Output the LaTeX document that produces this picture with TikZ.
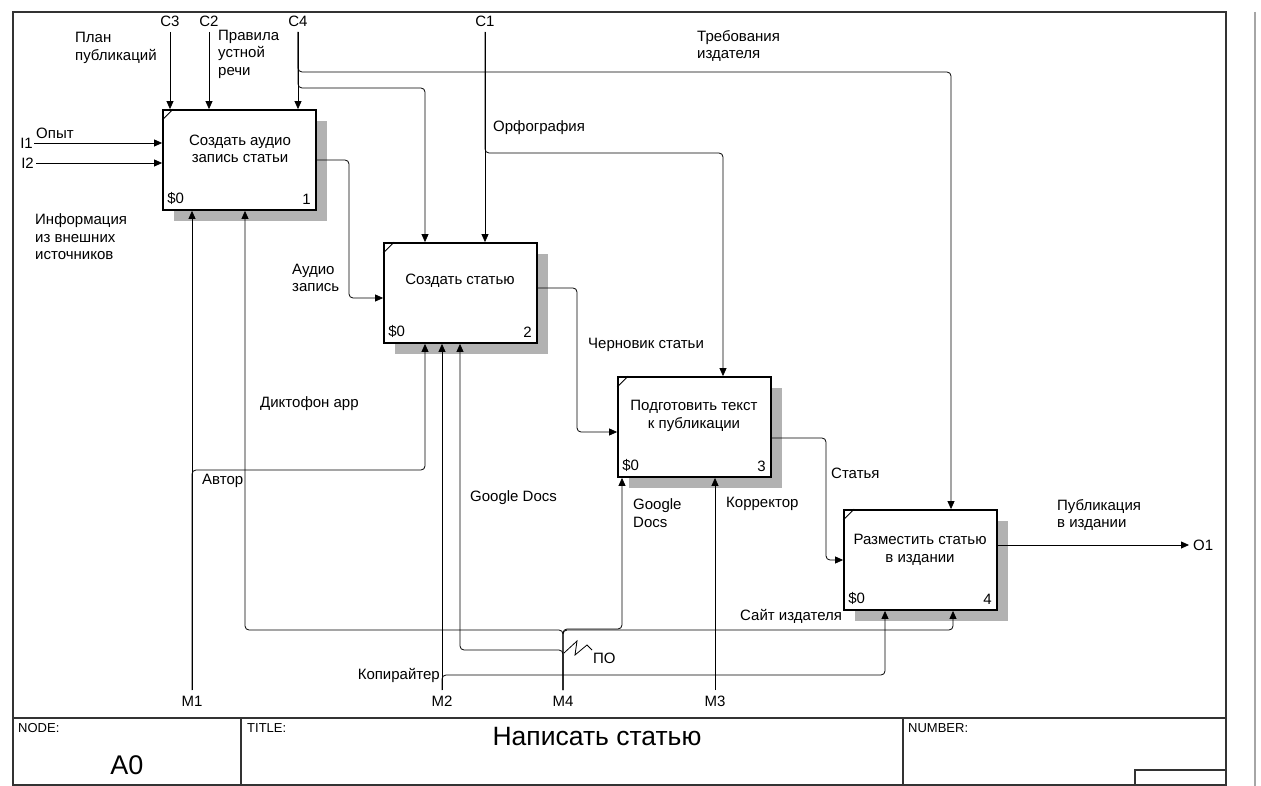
\documentclass[tikz,border=0pt]{standalone}
\usepackage{fontspec}
\setmainfont{Liberation Sans}
\usetikzlibrary{arrows.meta,shadows,calc}
\begin{document}
\begin{tikzpicture}[x=1pt,y=-1pt,
  font=\fontsize{15}{17.5}\selectfont,
  fn/.style={draw, line width=1.8pt, fill=white, minimum width=153pt, minimum height=100pt, inner sep=0pt,
    drop shadow={shadow xshift=11pt, shadow yshift=-11pt, fill=black!30, opacity=1}},
  lbl/.style={inner sep=0pt, anchor=west, align=left},
  ctr/.style={inner sep=0pt, align=center},
  conn/.style={draw, line width=0.8pt, rounded corners=4pt},
  arr/.style={conn, -{Triangle[length=8pt,width=7pt]}},
  frame/.style={draw, line width=1.1pt, black!80},
  small/.style={inner sep=0pt, anchor=west, font=\fontsize{13}{15}\selectfont}
]
\useasboundingbox (0,0) rectangle (1261,786);
\fill[white] (0,0) rectangle (1261,786);

% frame
\coordinate (ftl) at (13,12);
\coordinate (ftr) at (1226,12);
\coordinate (fbl) at (13,785);
\coordinate (fbr) at (1226,785);
\draw[frame] (fbl) -- (ftl) -- (ftr) -- (fbr) -- cycle;
\coordinate (pe1) at (1255,12);
\coordinate (pe2) at (1255,786);
\draw[line width=2pt, black!35] (pe1) -- (pe2);
% title block
\coordinate (tb1) at (13,718);
\coordinate (tb2) at (1226,718);
\draw[frame] (tb1) -- (tb2);
\coordinate (tv1) at (241,718);
\coordinate (tv2) at (903,718);
\draw[frame] (tv1) -- (tv1 |- fbl);
\draw[frame] (tv2) -- (tv2 |- fbl);
\coordinate (sb) at (1135,770);
\draw[frame] (sb |- fbl) -- (sb) -- (sb -| fbr);
\node[small] (tnode) at (18,728) {NODE:};
\node[small] (ttitle) at (247,728) {TITLE:};
\node[small] (tnum) at (908,728) {NUMBER:};
\node[inner sep=0pt, font=\fontsize{27}{30}\selectfont] (tA0) at (127,765) {A0};
\node[inner sep=0pt, font=\fontsize{26.5}{30}\selectfont] (tname) at (597,737) {Написать статью};

% boxes
\node[fn] (b1) at (239.5,160) {};
\node[fn] (b2) at (460.5,293) {};
\node[fn] (b3) at (694.5,427) {};
\node[fn] (b4) at (920.5,560) {};
\foreach \b in {b1,b2,b3,b4}{
  \draw[line width=0.8pt] ($(\b.north west)+(0,11)$) -- ($(\b.north west)+(11,0)$);
}
\node[ctr] (t1) at (240,149) {Создать аудио\\запись статьи};
\node[ctr] (t2) at (460,281) {Создать статью};
\node[ctr] (t3) at (694,416) {Подготовить текст\\к публикации};
\node[ctr] (t4) at (920,550) {Разместить статью\\в издании};
\node[lbl] (s1) at ($(b1.south west)+(5,-12)$) {\$0};
\node[lbl] (s2) at ($(b2.south west)+(5,-12)$) {\$0};
\node[lbl] (s3) at ($(b3.south west)+(5,-12)$) {\$0};
\node[lbl] (s4) at ($(b4.south west)+(5,-12)$) {\$0};
\node[inner sep=0pt, anchor=east] (n1) at ($(b1.south east)+(-6,-12)$) {1};
\node[inner sep=0pt, anchor=east] (n2) at ($(b2.south east)+(-6,-12)$) {2};
\node[inner sep=0pt, anchor=east] (n3) at ($(b3.south east)+(-6,-12)$) {3};
\node[inner sep=0pt, anchor=east] (n4) at ($(b4.south east)+(-6,-12)$) {4};

% boundary labels
\node[ctr] (lc3) at (170,21) {C3};
\node[ctr] (lc2) at (209,21) {C2};
\node[ctr] (lc4) at (298,21) {C4};
\node[ctr] (lc1) at (485,21) {C1};
\node[ctr] (lm1) at (192,701) {M1};
\node[ctr] (lm2) at (442,701) {M2};
\node[ctr] (lm4) at (563,701) {M4};
\node[ctr] (lm3) at (715,701) {M3};
\node[inner sep=0pt, anchor=east] (li1) at (33,143) {I1};
\node[inner sep=0pt, anchor=east] (li2) at (34,163) {I2};
\node[lbl] (lo1) at (1193,545) {O1};

% arrow labels
\node[lbl] (a1) at (75,48) {План\\публикаций};
\node[lbl] (a2) at (218,54) {Правила\\устной\\речи};
\node[lbl] (a3) at (697,46) {Требования\\издателя};
\node[lbl] (a4) at (36,133) {Опыт};
\node[lbl] (a5) at (35,237) {Информация\\из внешних\\источников};
\node[lbl] (a6) at (292,278) {Аудио\\запись};
\node[lbl] (a7) at (493,128) {Орфография};
\node[lbl] (a8) at (588,345) {Черновик статьи};
\node[lbl] (a9) at (831,473) {Статья};
\node[lbl] (a10) at (1057,515) {Публикация\\в издании};
\node[lbl] (a11) at (260,404) {Диктофон app};
\node[lbl] (a12) at (202,481) {Автор};
\node[lbl] (a13) at (470,498) {Google Docs};
\node[lbl] (a14) at (633,513) {Google\\Docs};
\node[lbl] (a15) at (726,504) {Корректор};
\node[lbl] (a16) at (740,616) {Сайт издателя};
\node[inner sep=0pt, anchor=east] (a17) at (440,675) {Копирайтер};
\node[lbl] (a18) at (593,658) {ПО};

% controls
\coordinate (c3s) at (170,32);
\coordinate (c2s) at (209,32);
\coordinate (c4s) at (298,32);
\coordinate (c1s) at (485,32);
\coordinate (c4a) at (425,88);
\coordinate (c4b) at (951,72);
\coordinate (c1a) at (723,153);
\draw[arr] (c3s) -- (c3s |- b1.north);
\draw[arr] (c2s) -- (c2s |- b1.north);
\draw[arr] (c4s) -- (c4s |- b1.north);
\draw[arr] (c4s) |- (c4a) -- (c4a |- b2.north);
\draw[arr] (c4s) |- (c4b) -- (c4b |- b4.north);
\draw[arr] (c1s) -- (c1s |- b2.north);
\draw[arr] (c1s) |- (c1a) -- (c1a |- b3.north);

% inputs
\coordinate (i1s) at (34,143);
\coordinate (i2s) at (36,163);
\draw[arr] (i1s) -- (i1s -| b1.west);
\draw[arr] (i2s) -- (i2s -| b1.west);

% outputs / flows
\coordinate (o1a) at (349,298);
\draw[arr] (b1.east) -| (o1a) -- (o1a -| b2.west);
\coordinate (o2a) at (577,288);
\coordinate (o2b) at (577,432);
\draw[arr] (b2.east |- o2a) -- (o2a) -- (o2b) -- (o2b -| b3.west);
\coordinate (o3a) at (826,438);
\coordinate (o3b) at (826,560);
\draw[arr] (b3.east |- o3a) -- (o3a) -- (o3b) -- (o3b -| b4.west);
\coordinate (o4a) at (1189,545);
\draw[arr] (b4.east |- o4a) -- (o4a);

% mechanisms
\coordinate (m1e) at (192,690);
\coordinate (m1a) at (425,470);
\draw[arr] (m1e) -- (m1e |- b1.south);
\draw[arr] (m1e) |- (m1a) -- (m1a |- b2.south);
\coordinate (m2e) at (442,690);
\coordinate (m2a) at (885,675);
\draw[arr] (m2e) -- (m2e |- b2.south);
\draw[arr] (m2e) |- (m2a) -- (m2a |- b4.south);
\coordinate (m3e) at (715,690);
\draw[arr] (m3e) -- (m3e |- b3.south);
\coordinate (m4e) at (563,690);
\coordinate (m4a) at (245,630);
\coordinate (m4b) at (622,629);
\coordinate (m4c) at (953,630);
\coordinate (m4d) at (460,650);
\draw[arr] (m4e) |- (m4a) -- (m4a |- b1.south);
\draw[arr] (m4e) |- (m4b) -- (m4b |- b3.south);
\draw[arr] (m4e) |- (m4c) -- (m4c |- b4.south);
\draw[arr] (m4e) |- (m4d) -- (m4d |- b2.south);
% tunnel squiggle
\coordinate (sq1) at (564,653);
\coordinate (sq2) at (577,641);
\coordinate (sq3) at (575,655);
\coordinate (sq4) at (587,645);
\coordinate (sq5) at (592,650);
\draw[line width=0.8pt] (sq1) -- (sq2) -- (sq3) -- (sq4) -- (sq5);
\end{tikzpicture}
\end{document}
